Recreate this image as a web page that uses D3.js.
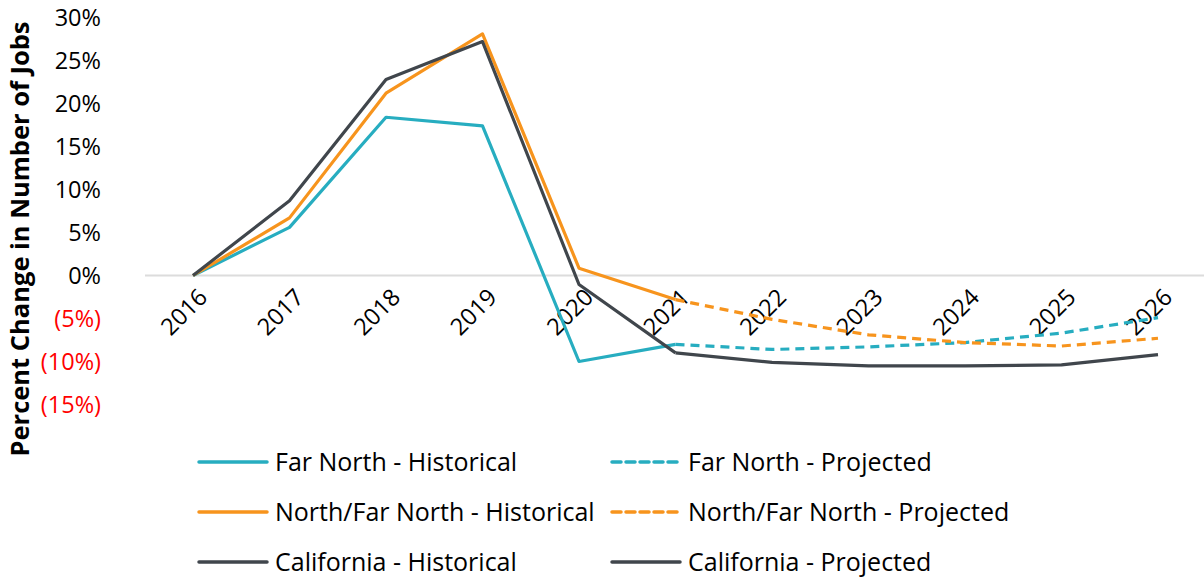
<!DOCTYPE html>
<html><head><meta charset="utf-8">
<script src="https://cdn.jsdelivr.net/npm/d3@7"></script>
<style>
html,body{margin:0;padding:0;background:#fff;}
svg{display:block;font-family:"Open Sans","Noto Sans",sans-serif;}
</style></head>
<body><svg id="c" width="1204" height="581"></svg>
<script>
const years = ["2016","2017","2018","2019","2020","2021","2022","2023","2024","2025","2026"];
const histYears = ["2016","2017","2018","2019","2020","2021"];
const projYears = ["2021","2022","2023","2024","2025","2026"];
const farNorthHist = [0, 5.6, 18.4, 17.4, -10.0, -8.0];
const farNorthProj = [-8.0, -8.6, -8.3, -7.8, -6.7, -4.9];
const northHist = [0, 6.7, 21.2, 28.1, 0.85, -2.8];
const northProj = [-2.8, -5.1, -6.9, -7.8, -8.2, -7.3];
const caHist = [0, 8.7, 22.8, 27.2, -1.05, -9.0];
const caProj = [-9.0, -10.1, -10.5, -10.5, -10.4, -9.2];
const yTicks = [30, 25, 20, 15, 10, 5, 0, -5, -10, -15];
const yTitle = "Percent Change in Number of Jobs";

const teal = "#27adc0", orange = "#f7941d", gray = "#40464c";

const svg = d3.select("#c");
const x = d3.scaleBand().domain(years).range([144.75, 1206.25]).paddingInner(0).paddingOuter(0);
const xc = d => x(d) + x.bandwidth()/2;
const y = d3.scaleLinear().domain([-15, 30]).range([404.5, 17.5]);

// zero gridline
svg.append("line").attr("x1", 145).attr("x2", 1204)
  .attr("y1", y(0)).attr("y2", y(0)).attr("stroke", "#dcdcdc").attr("stroke-width", 2);

// y tick labels
const fmt = v => v < 0 ? "(" + Math.abs(v) + "%)" : v + "%";
svg.append("g").selectAll("text").data(yTicks).join("text")
  .attr("x", 101).attr("y", d => y(d)).attr("dy", "0.36em")
  .attr("text-anchor", "end").attr("font-size", 23.5)
  .attr("fill", d => d < 0 ? "#ff0000" : "#000")
  .text(fmt);

// y title
svg.append("text").attr("transform", "translate(29," + 239 + ") rotate(-90)")
  .attr("text-anchor", "middle").attr("font-size", 25.5).attr("font-weight", "bold")
  .attr("fill", "#000").text(yTitle);

// x labels
svg.append("g").selectAll("text").data(years).join("text")
  .attr("transform", d => "translate(" + (xc(d) + 10) + ",293) rotate(-45)")
  .attr("text-anchor", "end").attr("dy", "0.35em").attr("font-size", 23.5).attr("fill", "#000")
  .text(d => d);

const line = d3.line().x(d => xc(d[0])).y(d => y(d[1]));
const series = [
  {yrs: histYears, v: farNorthHist, c: teal, dash: null},
  {yrs: projYears, v: farNorthProj, c: teal, dash: "9,6"},
  {yrs: histYears, v: northHist, c: orange, dash: null},
  {yrs: projYears, v: northProj, c: orange, dash: "9,6"},
  {yrs: histYears, v: caHist, c: gray, dash: null},
  {yrs: projYears, v: caProj, c: gray, dash: null}
];
svg.append("g").selectAll("path").data(series).join("path")
  .attr("d", s => line(s.yrs.map((yr, i) => [yr, s.v[i]])))
  .attr("fill", "none").attr("stroke", s => s.c).attr("stroke-width", 3.2)
  .attr("stroke-linejoin", "round")
  .attr("stroke-dasharray", s => s.dash);

// legend
const legendItems = [
  {label: "Far North - Historical", c: teal, dash: null, col: 0, row: 0},
  {label: "Far North - Projected", c: teal, dash: "9,5", col: 1, row: 0},
  {label: "North/Far North - Historical", c: orange, dash: null, col: 0, row: 1},
  {label: "North/Far North - Projected", c: orange, dash: "9,5", col: 1, row: 1},
  {label: "California - Historical", c: gray, dash: null, col: 0, row: 2},
  {label: "California - Projected", c: gray, dash: null, col: 1, row: 2}
];
const colX = [198, 611], rowY = [462, 512, 562];
const lg = svg.append("g").selectAll("g").data(legendItems).join("g")
  .attr("transform", d => "translate(" + colX[d.col] + "," + rowY[d.row] + ")");
lg.append("line").attr("x1", 1).attr("x2", 69).attr("y1", 0).attr("y2", 0)
  .attr("stroke", d => d.c).attr("stroke-width", 3.5).attr("stroke-linecap", "round")
  .attr("stroke-dasharray", d => d.dash);
lg.append("text").attr("x", 77).attr("y", 0).attr("dy", "0.36em")
  .attr("font-size", 25).attr("fill", "#000").text(d => d.label);
</script></body></html>
